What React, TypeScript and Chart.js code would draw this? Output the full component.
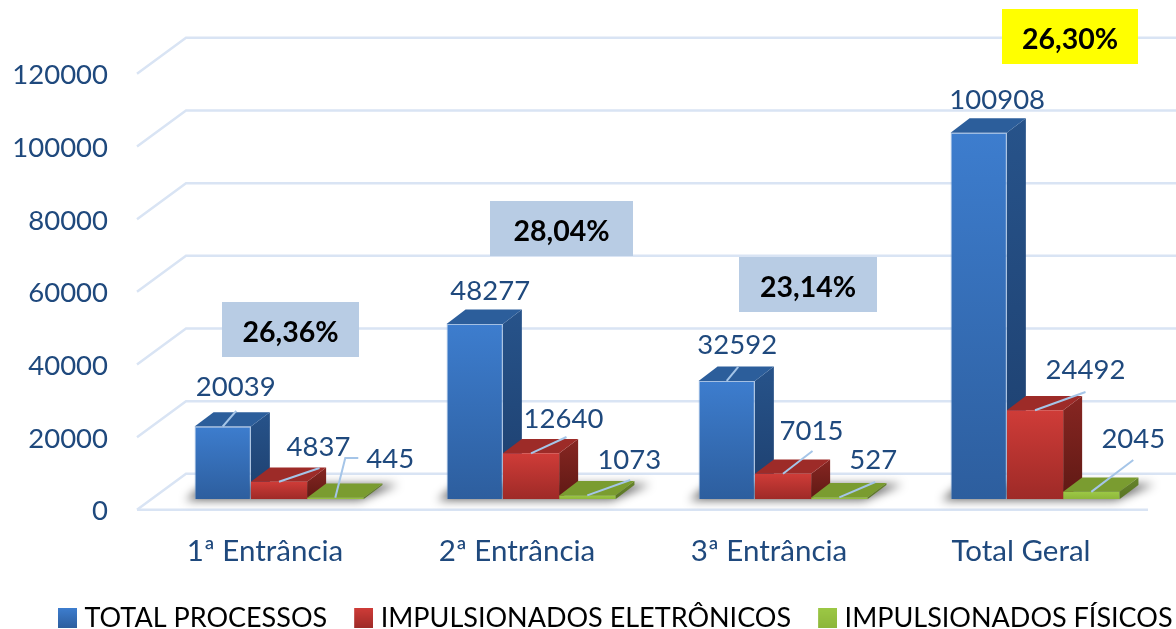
import React, { useEffect, useRef } from "react";
import { Chart, registerables } from "chart.js";

Chart.register(...registerables);

const categories = ["1ª Entrância", "2ª Entrância", "3ª Entrância", "Total Geral"];
const seriesNames = ["TOTAL PROCESSOS", "IMPULSIONADOS ELETRÔNICOS", "IMPULSIONADOS FÍSICOS"];
const totalProcessos = [20039, 48277, 32592, 100908];
const eletronicos = [4837, 12640, 7015, 24492];
const fisicos = [445, 1073, 527, 2045];
const percentLabels = ["26,36%", "28,04%", "23,14%", "26,30%"];

const FONT = "Lato, Carlito, sans-serif";
const TEXT = "#1F497D";
const GRID = "#D9E4F4";
const LEADER = "#A5C5E8";
const W = 1176;
const H = 629;
const DX = 19;
const DY = 14.3;

const palette = [
  { front: ["#3D7DCE", "#2D5E9E"], top: "#2C5E9B", side: ["#27538A", "#1D3F6E"], edge: 1 },
  { front: ["#CF3C38", "#9E2A27"], top: "#9D2B28", side: ["#872622", "#5F1914"], edge: 0 },
  { front: ["#9CC845", "#8DB63A"], top: "#7A9C30", side: ["#66842A", "#5A7525"], edge: 0 },
];

// Label placement relative to each bar's top: [label dx, dy], leader end points.
type Place = { l: number[]; e?: number[][] };
const placement: Place[][] = [
  [
    { l: [13, -39], e: [[13.5, -15.7]] },
    { l: [15.5, -33] },
    { l: [10.5, -36], e: [[11.5, -14]] },
    { l: [18.5, -33] },
  ],
  [
    { l: [39.5, -34.7], e: [[40.5, -13.7]] },
    { l: [32.5, -34.4], e: [[35.5, -16.4]] },
    { l: [28.5, -42.8], e: [[29.5, -22.8]] },
    { l: [50.5, -40.3], e: [[50.5, -18.3]] },
  ],
  [
    { l: [55, -38.7], e: [[10, -39.7], [23, -39.7]] },
    { l: [42, -35.4], e: [[43, -15.4]] },
    { l: [34, -37.4], e: [[36, -15.4]] },
    { l: [42, -52.9], e: [[42, -31.9]] },
  ],
];

const percentBoxes = [
  { x: 222, y: 302, w: 137, h: 55, fill: "#B8CCE4" },
  { x: 490, y: 201, w: 143, h: 55, fill: "#B8CCE4" },
  { x: 739, y: 257, w: 138, h: 55, fill: "#B8CCE4" },
  { x: 1002, y: 9, w: 136, h: 55, fill: "#FFFF00" },
];

function legendSwatch(i: number) {
  const c = document.createElement("canvas");
  c.width = 25;
  c.height = 20;
  const g = c.getContext("2d")!;
  const grad = g.createLinearGradient(0, 0, 0, 20);
  grad.addColorStop(0, palette[i].front[0]);
  grad.addColorStop(1, palette[i].front[1]);
  g.fillStyle = grad;
  g.fillRect(6, 0, 19, 20);
  return c;
}

const scene3d = {
  id: "scene3d",
  afterLayout(chart: any) {
    const lg = chart.legend;
    const pad = lg.options.labels.padding;
    const fs = lg.options.labels.font.size;
    lg.left = 58 - pad;
    lg.right = lg.left + lg.width;
    lg.top = 618 - pad - fs / 2;
    lg.bottom = lg.top + lg.height;
  },
  beforeDatasetsDraw(chart: any) {
    const ctx = chart.ctx;
    const y = chart.scales.y;
    ctx.save();
    // perspective gridlines from the y scale's ticks
    ctx.strokeStyle = GRID;
    ctx.lineWidth = 2.5;
    ctx.lineJoin = "miter";
    y.ticks.forEach((t: any) => {
      const p = y.getPixelForValue(t.value);
      ctx.beginPath();
      ctx.moveTo(137, p + 10.5);
      ctx.lineTo(186, p - 25.5);
      ctx.lineTo(W, p - 25.5);
      ctx.stroke();
    });
    const base = y.getPixelForValue(0);
    ctx.beginPath();
    ctx.moveTo(137, base + 10.5);
    ctx.lineTo(1148, base + 10.5);
    ctx.stroke();

    const metas = [0, 1, 2].map((i) => chart.getDatasetMeta(i).data);
    // floor shadows
    categories.forEach((_, c) => {
      const first = metas[0][c];
      const last = metas[2][c];
      const L = first.x - first.width / 2;
      const R = last.x + last.width / 2;
      ctx.save();
      ctx.filter = "blur(5px)";
      ctx.fillStyle = "rgba(0,0,0,0.6)";
      ctx.beginPath();
      ctx.moveTo(L - 9, base + 1);
      ctx.lineTo(R - 4, base + 1);
      ctx.lineTo(R + DX + 16, base - 15);
      ctx.lineTo(L + 10, base - 15);
      ctx.closePath();
      ctx.fill();
      ctx.restore();
    });
    // extrusions back to front
    metas.forEach((bars: any[], s: number) => {
      bars.forEach((b: any) => {
        const l = b.x - b.width / 2;
        const r = b.x + b.width / 2;
        const top = b.y;
        const grad = ctx.createLinearGradient(0, top - DY, 0, base);
        grad.addColorStop(0, palette[s].side[0]);
        grad.addColorStop(1, palette[s].side[1]);
        ctx.fillStyle = grad;
        ctx.beginPath();
        ctx.moveTo(r, top);
        ctx.lineTo(r + DX, top - DY);
        ctx.lineTo(r + DX, base - DY);
        ctx.lineTo(r, base);
        ctx.closePath();
        ctx.fill();
        ctx.fillStyle = palette[s].top;
        ctx.beginPath();
        ctx.moveTo(l, top);
        ctx.lineTo(l + DX, top - DY);
        ctx.lineTo(r + DX, top - DY);
        ctx.lineTo(r, top);
        ctx.closePath();
        ctx.fill();
      });
    });
    ctx.restore();
  },
  afterDatasetsDraw(chart: any) {
    const ctx = chart.ctx;
    ctx.save();
    // leaders and data labels
    ctx.font = `27.5px ${FONT}`;
    ctx.textAlign = "center";
    ctx.textBaseline = "middle";
    chart.data.datasets.forEach((ds: any, s: number) => {
      chart.getDatasetMeta(s).data.forEach((b: any, c: number) => {
        const pl = placement[s][c];
        if (pl.e) {
          ctx.strokeStyle = LEADER;
          ctx.lineWidth = 2;
          ctx.beginPath();
          ctx.moveTo(b.x, b.y);
          pl.e.forEach((pt) => ctx.lineTo(b.x + pt[0], b.y + pt[1]));
          ctx.stroke();
        }
        ctx.fillStyle = TEXT;
        ctx.fillText(String(ds.data[c]), b.x + pl.l[0], b.y + pl.l[1]);
      });
    });
    // percentage call-outs
    percentBoxes.forEach((box, i) => {
      ctx.fillStyle = box.fill;
      ctx.fillRect(box.x, box.y, box.w, box.h);
      ctx.fillStyle = "#000000";
      ctx.font = `bold 28.5px ${FONT}`;
      ctx.fillText(percentLabels[i], box.x + box.w / 2, box.y + box.h / 2 + 3);
    });
    ctx.restore();
  },
};

export default function App() {
  const ref = useRef<HTMLCanvasElement | null>(null);
  useEffect(() => {
    const faceFill = (s: number) => (c: any) => {
      const { chart, raw } = c;
      const y = chart.scales.y;
      if (raw === undefined || !y) return palette[s].front[0];
      const top = y.getPixelForValue(raw);
      const base = y.getPixelForValue(0);
      const g = chart.ctx.createLinearGradient(0, top, 0, base);
      g.addColorStop(0, palette[s].front[0]);
      g.addColorStop(1, palette[s].front[1]);
      return g;
    };
    const values = [totalProcessos, eletronicos, fisicos];
    const swatches = [0, 1, 2].map(legendSwatch);
    const chart = new Chart(ref.current!, {
      type: "bar",
      data: {
        labels: categories,
        datasets: seriesNames.map((label, s) => ({
          label,
          data: values[s],
          backgroundColor: faceFill(s),
          borderColor: "rgba(125,165,215,0.7)",
          borderWidth: palette[s].edge,
          borderSkipped: "bottom",
          categoryPercentage: 0.67,
          barPercentage: 1,
        })),
      },
      plugins: [scene3d],
      options: {
        responsive: false,
        animation: false,
        layout: { padding: { left: 0, right: 0, top: 63.3, bottom: 0 } },
        plugins: {
          tooltip: { enabled: false },
          title: { display: false },
          legend: {
            position: "bottom",
            align: "start",
            labels: {
              usePointStyle: true,
              boxWidth: 13,
              padding: 27,
              color: TEXT,
              font: { family: FONT, size: 27 },
              generateLabels: (ch: any) =>
                ch.data.datasets.map((d: any, i: number) => ({
                  text: d.label,
                  pointStyle: swatches[i],
                  fillStyle: palette[i].front[0],
                  strokeStyle: palette[i].front[0],
                  lineWidth: 0,
                  hidden: false,
                  datasetIndex: i,
                })),
            },
          },
        },
        scales: {
          x: {
            grid: { display: false },
            border: { display: false },
            ticks: {
              color: TEXT,
              font: { family: FONT, size: 29.5 },
              padding: 26,
              labelOffset: -14,
              maxRotation: 0,
              autoSkip: false,
            },
            afterFit: (s: any) => {
              s.height = H - 499.3 - (s.chart.legend?.height ?? 0);
            },
          },
          y: {
            min: 0,
            max: 120000,
            grid: { display: false },
            border: { display: false },
            ticks: {
              stepSize: 20000,
              color: TEXT,
              font: { family: FONT, size: 27.5 },
              padding: 37,
              labelOffset: 12,
              callback: (v: any) => String(v),
            },
            afterFit: (s: any) => {
              s.width = 153;
            },
          },
          // Empty axis that only reserves the right margin of the plot.
          yRight: {
            position: "right",
            display: true,
            grid: { display: false },
            border: { display: false },
            ticks: { display: false },
            afterFit: (s: any) => {
              s.width = 15;
            },
          },
        },
      },
    } as any);
    return () => chart.destroy();
  }, []);
  return (
    <div style={{ position: "absolute", left: 0, top: 0, width: W, height: H, background: "#fff" }}>
      <canvas ref={ref} width={W} height={H} style={{ display: "block" }} />
    </div>
  );
}
